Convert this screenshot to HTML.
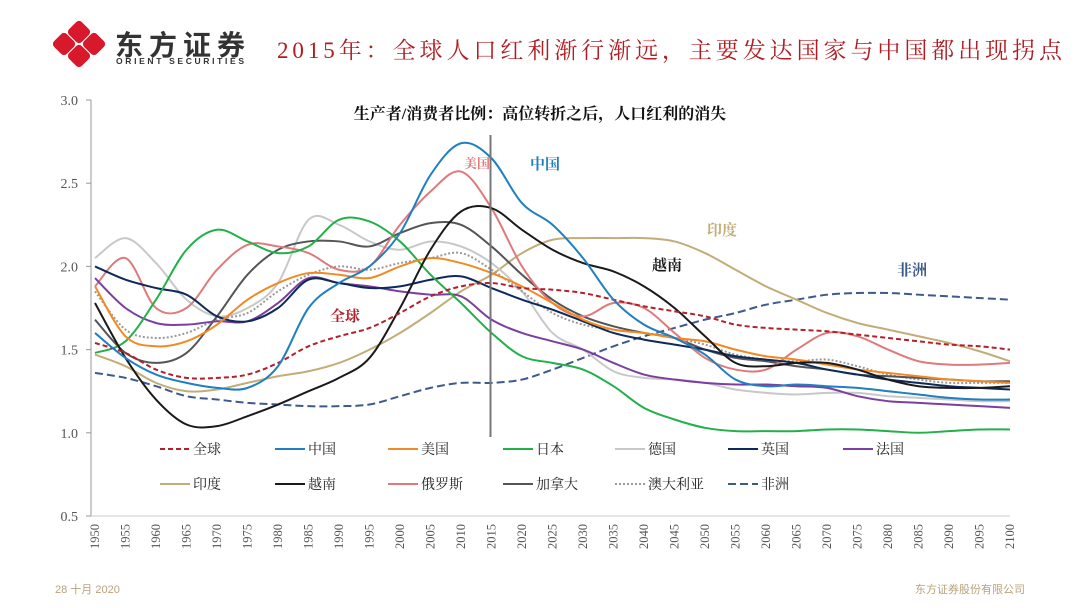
<!DOCTYPE html>
<html><head><meta charset="utf-8">
<style>
body{margin:0;background:#fff;font-family:"Liberation Sans","Noto Sans CJK SC",sans-serif;}
#wrap{position:relative;width:1080px;height:608px;overflow:hidden;background:#fff}
svg text{font-family:"Liberation Serif","Noto Serif CJK SC",serif}
</style></head><body>
<div id="wrap">
<svg id="chart" width="1080" height="608">
  <g>
    <g transform="translate(79,44)" fill="#d7192b">
      <rect x="-9" y="-9" width="18" height="18" rx="4" transform="translate(-15,0) rotate(45)"/>
      <rect x="-9" y="-9" width="18" height="18" rx="4" transform="translate(15,0) rotate(45)"/>
      <rect x="-9" y="-9" width="18" height="18" rx="4" transform="translate(0,-12) rotate(45)"/>
      <rect x="-9" y="-9" width="18" height="18" rx="4" transform="translate(0,12) rotate(45)"/>
    </g>
    <text x="115" y="55" font-size="28" font-weight="bold" fill="#333" style="font-family:'Noto Sans CJK SC',sans-serif" textLength="130">东方证券</text>
    <text x="116" y="64" font-size="8.5" font-weight="bold" fill="#333" style="font-family:'Liberation Sans',sans-serif" textLength="128">ORIENT SECURITIES</text>
  </g>
  <text x="277" y="58" font-size="23" fill="#b01c22" textLength="785">2015年：全球人口红利渐行渐远，主要发达国家与中国都出现拐点</text>
  <text x="540" y="119" font-size="16" font-weight="bold" fill="#111" text-anchor="middle">生产者/消费者比例：高位转折之后，人口红利的消失</text>
  <g id="axes"></g>
  <g id="series"></g>
  <g id="legend"></g>
  <text x="55" y="593" font-size="11" fill="#b8a27a" style="font-family:'Liberation Sans','Noto Sans CJK SC',sans-serif">28 十月 2020</text>
  <text x="1025" y="593" font-size="11" fill="#b8a27a" text-anchor="end" style="font-family:'Liberation Sans','Noto Sans CJK SC',sans-serif">东方证券股份有限公司</text>
</svg>
</div>
<script>
const years=[1950,1955,1960,1965,1970,1975,1980,1985,1990,1995,2000,2005,2010,2015,2020,2025,2030,2035,2040,2045,2050,2055,2060,2065,2070,2075,2080,2085,2090,2095,2100];
const yTicks=[0.5,1.0,1.5,2.0,2.5,3.0];
const global=[1.54,1.48,1.38,1.33,1.33,1.35,1.42,1.52,1.58,1.63,1.72,1.82,1.88,1.9,1.87,1.86,1.84,1.8,1.76,1.73,1.7,1.65,1.63,1.62,1.61,1.59,1.57,1.55,1.53,1.52,1.5];
const china=[1.6,1.45,1.35,1.3,1.27,1.27,1.4,1.75,1.9,2.0,2.2,2.55,2.74,2.65,2.38,2.25,2.05,1.8,1.65,1.57,1.47,1.32,1.28,1.29,1.28,1.27,1.25,1.23,1.21,1.2,1.2];
const usa=[1.88,1.58,1.52,1.55,1.65,1.8,1.9,1.96,1.95,1.93,2.0,2.05,2.02,1.96,1.88,1.78,1.68,1.62,1.6,1.57,1.55,1.5,1.46,1.44,1.41,1.38,1.36,1.34,1.32,1.31,1.3];
const japan=[1.48,1.55,1.8,2.1,2.22,2.15,2.08,2.12,2.28,2.27,2.15,1.95,1.78,1.6,1.46,1.42,1.38,1.28,1.15,1.08,1.03,1.01,1.01,1.01,1.02,1.02,1.01,1.0,1.01,1.02,1.02];
const germany=[2.05,2.17,2.02,1.8,1.7,1.75,1.9,2.28,2.25,2.15,2.1,2.15,2.12,2.02,1.85,1.6,1.5,1.37,1.33,1.32,1.3,1.26,1.24,1.23,1.24,1.24,1.22,1.21,1.2,1.19,1.19];
const uk=[2.0,1.92,1.87,1.83,1.7,1.67,1.75,1.92,1.9,1.87,1.88,1.92,1.94,1.87,1.8,1.74,1.67,1.6,1.56,1.53,1.5,1.46,1.44,1.42,1.38,1.35,1.32,1.3,1.28,1.27,1.26];
const france=[1.93,1.75,1.66,1.65,1.67,1.67,1.78,1.93,1.9,1.88,1.85,1.83,1.82,1.68,1.6,1.55,1.5,1.42,1.35,1.32,1.3,1.29,1.29,1.28,1.27,1.22,1.19,1.18,1.17,1.16,1.15];
const india=[1.47,1.4,1.3,1.25,1.26,1.3,1.34,1.37,1.42,1.5,1.6,1.72,1.85,1.95,2.08,2.16,2.17,2.17,2.17,2.15,2.08,1.98,1.88,1.8,1.72,1.66,1.62,1.58,1.54,1.49,1.43];
const vietnam=[1.78,1.45,1.2,1.05,1.04,1.1,1.17,1.25,1.33,1.45,1.75,2.1,2.33,2.35,2.22,2.1,2.02,1.97,1.88,1.75,1.58,1.42,1.4,1.42,1.42,1.38,1.32,1.28,1.27,1.27,1.28];
const russia=[1.88,2.05,1.75,1.75,1.98,2.13,2.12,2.08,1.98,2.0,2.25,2.45,2.57,2.35,2.0,1.78,1.7,1.78,1.75,1.6,1.45,1.38,1.38,1.5,1.6,1.58,1.5,1.43,1.41,1.41,1.42];
const canada=[1.68,1.48,1.42,1.48,1.7,1.95,2.1,2.15,2.15,2.12,2.2,2.26,2.25,2.12,1.95,1.8,1.7,1.64,1.6,1.57,1.5,1.45,1.43,1.4,1.38,1.35,1.34,1.33,1.32,1.31,1.31];
const australia=[1.85,1.62,1.57,1.6,1.68,1.72,1.85,1.95,2.0,1.98,2.02,2.05,2.08,1.98,1.85,1.72,1.65,1.62,1.6,1.57,1.53,1.47,1.44,1.43,1.44,1.4,1.35,1.32,1.3,1.3,1.3];
const africa=[1.36,1.33,1.28,1.22,1.2,1.18,1.17,1.16,1.16,1.17,1.22,1.27,1.3,1.3,1.32,1.38,1.45,1.52,1.58,1.63,1.68,1.72,1.77,1.8,1.83,1.84,1.84,1.83,1.82,1.81,1.8];
const seriesNames=["全球","中国","美国","日本","德国","英国","法国","印度","越南","俄罗斯","加拿大","澳大利亚","非洲"];
const seriesData=[global,china,usa,japan,germany,uk,france,india,vietnam,russia,canada,australia,africa];
const colors=["#b3202a","#1f7fbf","#f08a24","#22b04b","#c8c8c8","#0e2a5a","#7b3fa0","#c2ad78","#1a1a1a","#e07a7a","#555","#999","#3d5a8a"];
const dashes=["5,3","","","","","","","","","","","2,2","8,4"];
const keys=["global","china","usa","japan","germany","uk","france","india","vietnam","russia","canada","australia","africa"];

const X0=95,X1=1010,Y0=516,Y1=100;
const xs=y=>X0+(y-1950)/150*(X1-X0);
const ys=v=>Y0-(v-0.5)/2.5*(Y0-Y1);
const NS="http://www.w3.org/2000/svg";
function mk(t,a,p){const e=document.createElementNS(NS,t);for(const k in a)e.setAttribute(k,a[k]);p.appendChild(e);return e;}
const axes=document.getElementById('axes');
const yl=mk('line',{x1:91,y1:Y1,x2:91,y2:Y0,stroke:'#999'},axes);


const xl=mk('line',{x1:91,y1:Y0,x2:X1,y2:Y0,stroke:'#ccc'},axes);


yTicks.forEach(v=>{
  mk('line',{x1:86,x2:91,y1:ys(v),y2:ys(v),stroke:'#999'},axes);
  const t=mk('text',{x:78,y:ys(v)+5,'font-size':14,fill:'#555','text-anchor':'end'},axes);
  t.textContent=v.toFixed(1);
  
  
});
years.forEach(y=>{
  const t=mk('text',{x:0,y:0,'font-size':12.5,fill:'#555','text-anchor':'end',transform:`translate(${xs(y)+4},${Y0+8}) rotate(-90)`},axes);
  t.textContent=y;
  
  
});
function pathFor(arr){
  const p=arr.map((v,i)=>[xs(years[i]),ys(v)]);
  let d=`M${p[0][0]},${p[0][1]}`;
  for(let i=0;i<p.length-1;i++){
    const a=p[i-1]||p[i],b=p[i],c=p[i+1],e=p[i+2]||c;
    d+=`C${b[0]+(c[0]-a[0])/6},${b[1]+(c[1]-a[1])/6} ${c[0]-(e[0]-b[0])/6},${c[1]-(e[1]-b[1])/6} ${c[0]},${c[1]}`;
  }
  return d;
}
const sg=document.getElementById('series');
const order=[12,7,4,11,10,9,6,5,3,2,8,0,1];
order.forEach(i=>{
  const el=mk('path',{d:pathFor(seriesData[i]),fill:'none',stroke:colors[i],'stroke-width':2,'stroke-dasharray':dashes[i]},sg);
  
  
});
const vl=mk('line',{x1:xs(2015)-1,x2:xs(2015)-1,y1:135,y2:495,stroke:'#777','stroke-width':2},sg);


const ann=[["美国",477,168,"#e07a7a",13],["中国",545,169,"#1f7fbf",15],["印度",722,235,"#c2ad78",15],["越南",667,270,"#1a1a1a",15],["非洲",912,275,"#3d5a8a",15],["全球",345,321,"#b3202a",15]];
ann.forEach(a=>{
  const t=mk('text',{x:a[1],y:a[2],'font-size':a[4],'font-weight':'bold',fill:a[3],'text-anchor':'middle'},sg);
  t.textContent=a[0];
  
  
});
const lg=document.getElementById('legend');
const lbg=mk('rect',{x:150,y:437,width:700,height:60,fill:'#fff'},lg);


const lx=[160,275,388,503,615,728,843];
seriesNames.forEach((n,i)=>{
  const r=i<7?0:1,c=i<7?i:i-7;
  const x=lx[c],y=r?484:449;
  const g=mk('g',{},lg);
  
  
  mk('line',{x1:x,x2:x+30,y1:y,y2:y,stroke:colors[i],'stroke-width':2,'stroke-dasharray':dashes[i]},g);
  const t=mk('text',{x:x+33,y:y+5,'font-size':14,fill:'#222'},g);
  t.textContent=n;
});
</script>
</body></html>
